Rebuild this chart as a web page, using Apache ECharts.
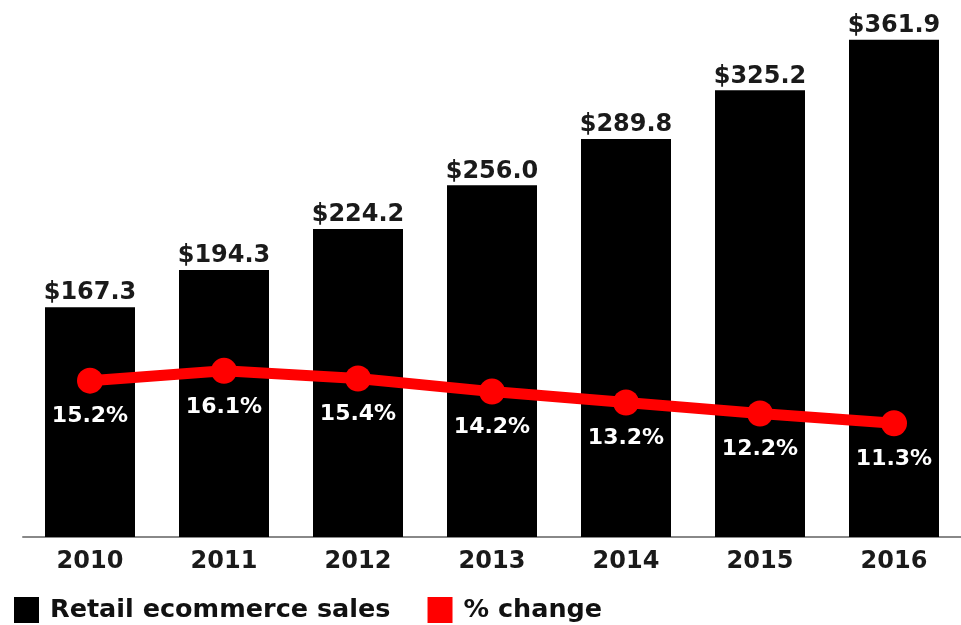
<!DOCTYPE html>
<html>
<head>
<meta charset="utf-8">
<script src="https://cdn.jsdelivr.net/npm/echarts@6/dist/echarts.min.js"></script>
<style>
html,body{margin:0;padding:0;background:#fff;}
#c{width:961px;height:625px;}
</style>
</head>
<body>
<div id="c"></div>
<script>
const years = ['2010','2011','2012','2013','2014','2015','2016'];
const salesValues = [167.3, 194.3, 224.2, 256.0, 289.8, 325.2, 361.9];
const changeValues = [15.2, 16.1, 15.4, 14.2, 13.2, 12.2, 11.3];
const seriesNames = ['Retail ecommerce sales', '% change'];

const chart = echarts.init(document.getElementById('c'), null, {renderer:'canvas'});
const font = 'DejaVu Sans';
chart.setOption({
  animation: false,
  backgroundColor: '#ffffff',
  grid: {left: 23, width: 944, top: 15, bottom: 88, containLabel: false},
  legend: {
    left: 14, top: 597, padding: 0,
    itemWidth: 25, itemHeight: 26, itemGap: 37,
    icon: 'rect',
    textStyle: {fontFamily: font, fontWeight: 'bold', fontSize: 25.5, color: '#111', padding: [0,0,0,6]},
    data: [
      {name: seriesNames[0], itemStyle: {color: '#000'}},
      {name: seriesNames[1], itemStyle: {color: '#ff0000'}}
    ]
  },
  xAxis: {
    type: 'category', data: years,
    axisLine: {lineStyle: {color: '#888', width: 2}},
    axisTick: {show: false},
    axisLabel: {fontFamily: font, fontWeight: 'bold', fontSize: 24, color: '#1a1a1a', margin: 13}
  },
  yAxis: [
    {type: 'value', min: 0, max: 380, show: false, splitLine: {show: false}},
    {type: 'value', min: 0.9, max: 48.65, show: false, splitLine: {show: false}}
  ],
  series: [
    {
      name: seriesNames[0], type: 'bar', data: salesValues, barWidth: 90,
      itemStyle: {color: '#000'},
      label: {show: true, position: 'top', distance: 2,
        formatter: p => '$' + p.value.toFixed(1),
        fontFamily: font, fontWeight: 'bold', fontSize: 24, color: '#1a1a1a'}
    },
    {
      name: seriesNames[1], type: 'line', yAxisIndex: 1, data: changeValues,
      symbol: 'circle', symbolSize: 26,
      lineStyle: {color: '#ff0000', width: 11},
      itemStyle: {color: '#ff0000'},
      label: {show: true, position: 'bottom', distance: 12,
        formatter: p => p.value.toFixed(1) + '%',
        fontFamily: font, fontWeight: 'bold', fontSize: 22, color: '#ffffff'}
    }
  ]
});
</script>
</body>
</html>
